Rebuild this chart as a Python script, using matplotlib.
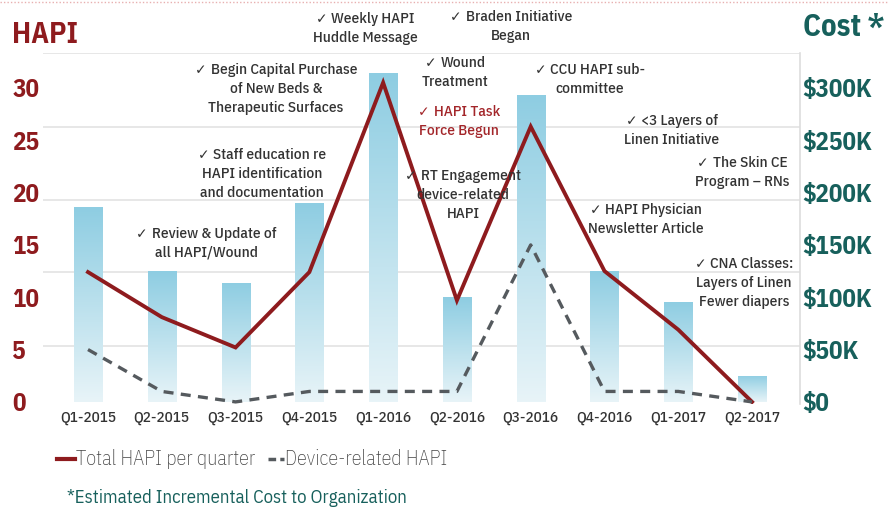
import matplotlib
matplotlib.use("Agg")
import matplotlib.pyplot as plt
from matplotlib.lines import Line2D
import numpy as np

# data
quarters = ["Q1-2015", "Q2-2015", "Q3-2015", "Q4-2015", "Q1-2016",
            "Q2-2016", "Q3-2016", "Q4-2016", "Q1-2017", "Q2-2017"]
cost_k = [186, 125, 114, 190, 314, 100, 293, 125, 95, 25]          # $K, bars
total_hapi = [12.4, 8.1, 5.2, 12.4, 30.5, 9.7, 26.3, 12.5, 6.9, 0]
device_hapi = [5, 1, 0, 1, 1, 1, 15, 1, 1, 0]
hapi_ticks = [0, 5, 10, 15, 20, 25, 30]
cost_ticks = [0, 50, 100, 150, 200, 250, 300]
grid_levels = [5.3, 12.4, 19.3, 26.3, 33.3]

# milestone notes: text, centre x / first line y in pixels, colour
notes = [
    ("Weekly HAPI\nHuddle Message", 365, 19, "#333333"),
    ("Braden Initiative\nBegan", 511, 17, "#333333"),
    ("Begin Capital Purchase\nof New Beds &\nTherapeutic Surfaces", 276, 70, "#333333"),
    ("Wound\nTreatment", 455, 63, "#333333"),
    ("HAPI Task\nForce Begun", 459, 112, "#a3262a"),
    ("CCU HAPI sub-\ncommittee", 590, 70, "#333333"),
    ("<3 Layers of\nLinen Initiative", 672, 121, "#333333"),
    ("The Skin CE\nProgram \u2013 RNs", 742, 163, "#333333"),
    ("Staff education re\nHAPI identification\nand documentation", 262, 155, "#333333"),
    ("RT Engagement\ndevice-related\nHAPI", 463, 176, "#333333"),
    ("Review & Update of\nall HAPI/Wound", 206, 234, "#333333"),
    ("HAPI Physician\nNewsletter Article", 646, 210, "#333333"),
    ("CNA Classes:\nLayers of Linen\nFewer diapers", 744, 264, "#333333"),
]

RED = "#8e1b1e"
TEAL = "#17605c"
GREY = "#555a5e"
W, H = 888, 531
FONT = ["IBM Plex Sans Condensed", "DejaVu Sans"]

fig = plt.figure(figsize=(W / 100, H / 100), dpi=100)
ax = fig.add_axes([43 / W, 1 - 404 / H, (800 - 43) / W, (404 - 53) / H])

x = np.arange(len(quarters))
ax.set_xlim(-0.61, 9.65)
ax.set_ylim(-0.2, 33.33)

# bars with a light-blue vertical gradient
grad = np.linspace(0, 1, 256).reshape(-1, 1)
cmap = matplotlib.colors.LinearSegmentedColormap.from_list("b", ["#e8f4f8", "#8ecde2"])
bars = ax.bar(x, np.array(cost_k) / 10, width=0.38, color="none", zorder=1)
for b in bars:
    x0, w, h = b.get_x(), b.get_width(), b.get_height()
    im = ax.imshow(grad, extent=[x0, x0 + w, 0, h], origin="lower", aspect="auto",
                   cmap=cmap, zorder=1)
    im.set_clip_path(b)

for g in grid_levels:
    ax.axhline(g, color="#e3e3e3", lw=1.2, zorder=0)

ax.plot(x, total_hapi, color=RED, lw=2.8, zorder=4, solid_joinstyle="miter")
ax.plot(x, device_hapi, color=GREY, lw=2.4, ls=(0, (3, 2.2)), zorder=4)

for s in ["top", "left", "bottom"]:
    ax.spines[s].set_visible(False)
ax.spines["right"].set_color("#dddddd")
ax.spines["right"].set_linewidth(1.2)

ax.set_xticks(x)
ax.set_xticklabels(quarters, family=FONT, fontsize=11, fontweight="medium", color="#333333")
ax.tick_params(axis="x", length=0, pad=5)
ax.set_yticks(hapi_ticks)
ax.set_yticklabels([str(v) for v in hapi_ticks], family=FONT,
                   fontsize=18, fontweight="bold", color=RED)
ax.tick_params(axis="y", length=0, pad=22)
for t in ax.get_yticklabels():
    t.set_ha("left")

ax2 = ax.twinx()
ax2.set_ylim(-2, 333.3)
ax2.set_yticks(cost_ticks)
ax2.set_yticklabels([f"${v}K" if v else "$0" for v in cost_ticks],
                    family=FONT, fontsize=18, fontweight="bold", color=TEAL)
ax2.tick_params(axis="y", length=0, pad=2)
for s in ["top", "left", "bottom", "right"]:
    ax2.spines[s].set_visible(False)

# annotations, each with a DejaVu check mark in front of the first line
r = fig.canvas.get_renderer()
probe = fig.text(0, 0, "\u2713", family="DejaVu Sans", fontsize=10)
chk_w = probe.get_window_extent(r).width
probe.remove()
gap = 4
for txt, px, py, col in notes:
    for i, line in enumerate(txt.split("\n")):
        ypx = py + i * 18.8
        if i == 0:
            cx = px + (chk_w + gap) / 2
            t = fig.text(cx / W, 1 - ypx / H, line, ha="center", va="center", family=FONT,
                         fontsize=11, fontweight="medium", color=col, zorder=2)
            left = t.get_window_extent(r).x0
            fig.text((left - gap) / W, 1 - ypx / H, "\u2713", ha="right", va="center",
                     family="DejaVu Sans", fontsize=10, color=col, zorder=2)
        else:
            fig.text(px / W, 1 - ypx / H, line, ha="center", va="center", family=FONT,
                     fontsize=11, fontweight="medium", color=col, zorder=2)

fig.text(12 / W, 1 - 35 / H, "HAPI", family=FONT, fontsize=21,
         fontweight="bold", color=RED, va="center", ha="left")
fig.text(803 / W, 1 - 27 / H, "Cost *", family=FONT, fontsize=22,
         fontweight="bold", color=TEAL, va="center", ha="left")

# legend row
ly = 1 - 459 / H
fig.add_artist(Line2D([57 / W, 75 / W], [ly, ly], transform=fig.transFigure, color=RED, lw=3))
fig.text(76 / W, ly, "Total HAPI per quarter", family=FONT, fontsize=14.5,
         fontweight="light", color="#444444", va="center", ha="left")
fig.add_artist(Line2D([268 / W, 284 / W], [ly, ly], transform=fig.transFigure, color=GREY,
                      lw=2.5, ls=(0, (2.2, 1.2))))
fig.text(285 / W, ly, "Device-related HAPI", family=FONT, fontsize=14.5,
         fontweight="light", color="#444444", va="center", ha="left")
fig.text(67 / W, 1 - 498 / H, "*Estimated Incremental Cost to Organization",
         family=FONT, fontsize=13.5, color=TEAL, va="center", ha="left")

# dotted border along the top edge
fig.add_artist(Line2D([0, 1], [1 - 2 / H, 1 - 2 / H], transform=fig.transFigure,
                      color="#e8b0b0", lw=1, ls=(0, (1, 1.5))))

fig.savefig("out.png", dpi=100)
